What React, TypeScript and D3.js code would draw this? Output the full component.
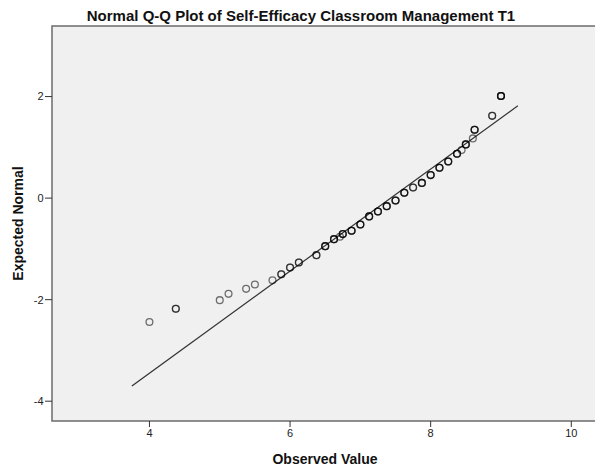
import * as d3 from 'd3';

const observed = [4.0, 4.375, 5.0, 5.125, 5.375, 5.5, 5.75, 5.875, 6.0, 6.125, 6.375, 6.5, 6.625, 6.71, 6.75, 6.875, 7.0, 7.125, 7.25, 7.375, 7.5, 7.625, 7.75, 7.875, 8.0, 8.125, 8.25, 8.375, 8.44, 8.5, 8.6, 8.625, 8.875, 9.0];
const expected = [-2.44, -2.18, -2.01, -1.886, -1.787, -1.70, -1.62, -1.50, -1.366, -1.267, -1.123, -0.946, -0.808, -0.76, -0.709, -0.644, -0.52, -0.36, -0.263, -0.158, -0.046, 0.105, 0.21, 0.30, 0.453, 0.597, 0.72, 0.873, 0.946, 1.058, 1.176, 1.346, 1.62, 2.01];
const cases = [1, 2, 1, 1, 1, 1, 1, 2, 2, 2, 2, 3, 3, 1, 3, 3, 3, 3, 3, 3, 3, 3, 2, 3, 3, 3, 3, 3, 1, 3, 1, 3, 2, 4];

const xTicks = [4, 6, 8, 10];
const yTicks = [-4, -2, 0, 2];

// reference line: expected = (observed - mean) / sd
const lineMean = 7.43;
const lineSd = 0.995;
const lineRange = [3.75, 9.24];

const W = 595;
const H = 469;
const left = 52;
const top = 26;
const bottom = 421;
const right = 598;

export default function App() {
  const x = d3.scaleLinear().domain([2.614, 10.38]).range([left, right]);
  const y = d3.scaleLinear().domain([-4.39, 3.39]).range([bottom, top]);

  const refLine = d3.line<number>()
    .x(d => x(d))
    .y(d => y((d - lineMean) / lineSd));

  const font = '"Liberation Sans", Arial, sans-serif';

  const marks: { cx: number; cy: number; key: string }[] = [];
  observed.forEach((v, i) => {
    for (let k = 0; k < cases[i]; k++) {
      marks.push({ cx: x(v), cy: y(expected[i]), key: `${i}-${k}` });
    }
  });

  return (
    <svg width={W} height={H} style={{ position: 'absolute', left: 0, top: 0, background: '#fff' }} fontFamily={font}>
      <text x={301} y={20.5} textAnchor="middle" fontSize={15} fontWeight="bold" fill="#111">
        Normal Q-Q Plot of Self-Efficacy Classroom Management T1
      </text>

      <rect x={left} y={top} width={right - left} height={bottom - top} fill="#f0f0f0" stroke="#6b6b6b" strokeWidth={1.5} />

      {yTicks.map(t => (
        <g key={`y${t}`}>
          <line x1={left - 7} x2={left} y1={y(t)} y2={y(t)} stroke="#333" strokeWidth={1} />
          <text x={left - 8.5} y={y(t)} dy="0.35em" textAnchor="end" fontSize={11} fill="#222">{t}</text>
        </g>
      ))}

      {xTicks.map(t => (
        <g key={`x${t}`}>
          <line x1={x(t)} x2={x(t)} y1={bottom} y2={bottom + 6} stroke="#333" strokeWidth={1} />
          <text x={x(t)} y={437} textAnchor="middle" fontSize={11} fill="#222">{t}</text>
        </g>
      ))}

      <path d={refLine(lineRange) || ''} fill="none" stroke="#333" strokeWidth={1.2} />

      {marks.map(m => (
        <circle key={m.key} cx={m.cx} cy={m.cy} r={3.4} fill="none" stroke="#000" strokeOpacity={0.55} strokeWidth={1.3} />
      ))}

      <text x={325} y={464} textAnchor="middle" fontSize={14} fontWeight="bold" fill="#111">Observed Value</text>
      <text transform={`translate(23,${(top + bottom) / 2}) rotate(-90)`} textAnchor="middle" fontSize={14} fontWeight="bold" fill="#111">
        Expected Normal
      </text>
    </svg>
  );
}
